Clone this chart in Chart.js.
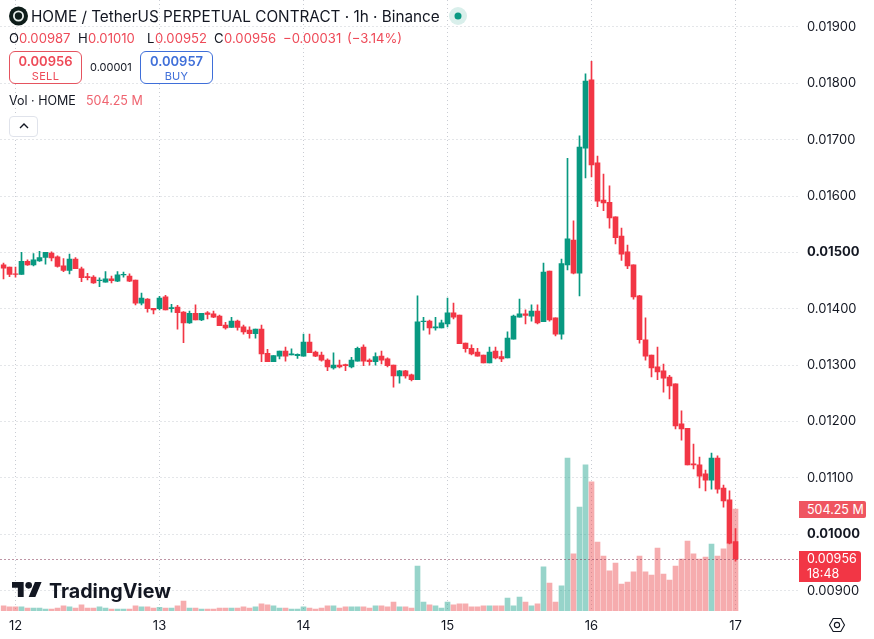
<!DOCTYPE html>
<html>
<head>
<meta charset="utf-8">
<title>HOME / TetherUS 1h</title>
<script src="https://cdn.jsdelivr.net/npm/chart.js@4/dist/chart.umd.min.js"></script>
<style>
    html, body { margin: 0; padding: 0; background: #fff; }
    body { position: relative; width: 874px; height: 639px; overflow: hidden; font-family: Inter, sans-serif; color: #131722; }
    canvas { position: absolute; left: 0; top: 0; }
    .t { position: absolute; white-space: nowrap; line-height: 1; }
    .red { color: #ee4a58; }
    .ohlc { font-size: 13.100px; top: 32px; }
    .box { position: absolute; top: 51px; width: 71px; height: 31px; border: 1px solid; border-radius: 6px; background: #fff; text-align: center; }
    .box b { display: block; font-size: 13px; font-weight: 600; line-height: 13px; margin-top: 3px; }
    .box span { display: block; font-size: 11px; line-height: 11px; margin-top: 3px; letter-spacing: 0.3px; }
</style>
</head>
<body>
<canvas id="priceChart" width="874" height="639"></canvas>

<svg class="t" style="left:9px;top:6px" width="20" height="20" viewBox="0 0 20 20">
    <circle cx="9.5" cy="10" r="9.5" fill="#0e1d1a"/>
    <circle cx="9.5" cy="10" r="4.6" fill="none" stroke="#e8efec" stroke-width="1.8"/>
</svg>
<div class="t" style="left:31px;top:9px;font-size:15.3px">HOME / TetherUS PERPETUAL CONTRACT · 1h · Binance</div>
<svg class="t" style="left:448px;top:6px" width="20" height="20" viewBox="0 0 20 20">
    <circle cx="10" cy="10" r="9" fill="#d9efeb"/>
    <circle cx="10" cy="10" r="3.5" fill="#089981"/>
</svg>

<div class="t ohlc" style="left:9px">O</div>
<div class="t ohlc red" style="left:19px">0.00987</div>
<div class="t ohlc" style="left:78px">H</div>
<div class="t ohlc red" style="left:88px">0.01010</div>
<div class="t ohlc" style="left:147px">L</div>
<div class="t ohlc red" style="left:155px">0.00952</div>
<div class="t ohlc" style="left:214px">C</div>
<div class="t ohlc red" style="left:224px">0.00956</div>
<div class="t ohlc red" style="left:283px">−0.00031</div>
<div class="t ohlc red" style="left:347px">(−3.14%)</div>

<div class="box red" style="left:9px;border-color:#e5535f"><b>0.00956</b><span>SELL</span></div>
<div class="t" style="left:90px;top:62px;font-size:11px">0.00001</div>
<div class="box" style="left:140px;border-color:#3f6fd9;color:#3f6fd9"><b>0.00957</b><span>BUY</span></div>

<div class="t" style="left:9px;top:95px;font-size:12.5px">Vol · HOME</div>
<div class="t" style="left:86px;top:95px;font-size:12.5px;color:#ef6470">504.25 M</div>

<div class="t" style="left:9px;top:116px;width:27px;height:19px;border:1px solid #e0e3eb;border-radius:4px;background:#fff"></div>
<svg class="t" style="left:18px;top:122px" width="12" height="8" viewBox="0 0 12 8">
    <path d="M2 6l4-4 4 4" fill="none" stroke="#131722" stroke-width="1.4"/>
</svg>

<svg class="t" style="left:12px;top:582px" width="30" height="15" viewBox="0 4 36 18">
    <path d="M14 22H7V11H0V4h14v18zM28 22h-8l7.5-18h8L28 22z" fill="#131722"/>
    <circle cx="20" cy="8" r="4" fill="#131722"/>
</svg>
<div class="t" style="left:49px;top:579px;font-size:19.700px;font-weight:700;line-height:24px">TradingView</div>

<div class="t" style="left:799px;top:501px;width:59px;height:17px;padding-left:8px;background:#ef5561;color:#fff;font-size:12.5px;line-height:17px;border-radius:0 2px 2px 0">504.25 M</div>
<div class="t" style="left:799px;top:551px;width:54px;height:31px;padding-left:8px;background:#f23645;color:#fff;font-size:12.5px;line-height:15px;border-radius:0 3px 3px 0">0.00956<br>18:48</div>

<svg class="t" style="left:828px;top:617px" width="18" height="16" viewBox="0 0 18 16">
    <path d="M1.5 8l3.7-6.5h7.6L16.500 8l-3.700 6.500H5.200z" fill="none" stroke="#131722" stroke-width="1.100"/>
    <circle cx="9" cy="8" r="2.600" fill="none" stroke="#131722" stroke-width="1.100"/>
</svg>

<script>
    // one candle per hour, oldest first
    const opens = [
        0.01478, 0.01474, 0.01462, 0.01461, 0.01484, 0.01478, 0.01485, 0.01491, 0.01499, 0.01492,
        0.01476, 0.01468, 0.01488, 0.01471, 0.01457, 0.01456, 0.01450, 0.01447, 0.01453, 0.01449,
        0.01460, 0.01458, 0.01451, 0.01410, 0.01417, 0.01401, 0.01400, 0.01421, 0.01400, 0.01403,
        0.01394, 0.01375, 0.01392, 0.01380, 0.01393, 0.01391, 0.01387, 0.01371, 0.01367, 0.01378,
        0.01368, 0.01362, 0.01356, 0.01364, 0.01321, 0.01306, 0.01316, 0.01325, 0.01318, 0.01317,
        0.01316, 0.01341, 0.01323, 0.01318, 0.01309, 0.01295, 0.01300, 0.01301, 0.01297, 0.01307,
        0.01332, 0.01309, 0.01306, 0.01316, 0.01311, 0.01300, 0.01281, 0.01290, 0.01283, 0.01274,
        0.01377, 0.01378, 0.01366, 0.01366, 0.01373, 0.01393, 0.01389, 0.01339, 0.01330, 0.01323,
        0.01318, 0.01304, 0.01325, 0.01315, 0.01313, 0.01346, 0.01385, 0.01391, 0.01387, 0.01396,
        0.01377, 0.01467, 0.01384, 0.01355, 0.01478, 0.01522, 0.01463, 0.01685, 0.01806, 0.01659,
        0.01593, 0.01589, 0.01563, 0.01529, 0.01501, 0.01478, 0.01423, 0.01345, 0.01318, 0.01297,
        0.01290, 0.01279, 0.01267, 0.01196, 0.01188, 0.01125, 0.01123, 0.01107, 0.01096, 0.01135,
        0.01082, 0.01061, 0.00987,
    ]
    const highs = [
        0.01481, 0.01474, 0.01474, 0.01500, 0.01487, 0.01498, 0.01502, 0.01500, 0.01501, 0.01494,
        0.01489, 0.01497, 0.01491, 0.01474, 0.01463, 0.01459, 0.01455, 0.01466, 0.01458, 0.01466,
        0.01465, 0.01462, 0.01451, 0.01428, 0.01418, 0.01401, 0.01422, 0.01424, 0.01408, 0.01406,
        0.01395, 0.01396, 0.01407, 0.01392, 0.01395, 0.01396, 0.01389, 0.01376, 0.01385, 0.01380,
        0.01371, 0.01368, 0.01364, 0.01371, 0.01328, 0.01317, 0.01325, 0.01332, 0.01329, 0.01320,
        0.01355, 0.01355, 0.01325, 0.01323, 0.01311, 0.01322, 0.01309, 0.01302, 0.01314, 0.01332,
        0.01336, 0.01311, 0.01322, 0.01325, 0.01313, 0.01300, 0.01291, 0.01291, 0.01284, 0.01423,
        0.01385, 0.01380, 0.01385, 0.01380, 0.01419, 0.01410, 0.01389, 0.01339, 0.01336, 0.01330,
        0.01318, 0.01332, 0.01332, 0.01325, 0.01359, 0.01389, 0.01417, 0.01398, 0.01407, 0.01407,
        0.01481, 0.01467, 0.01384, 0.01488, 0.01667, 0.01556, 0.01707, 0.01817, 0.01839, 0.01671,
        0.01639, 0.01618, 0.01563, 0.01543, 0.01513, 0.01478, 0.01424, 0.01384, 0.01318, 0.01332,
        0.01302, 0.01282, 0.01267, 0.01219, 0.01188, 0.01160, 0.01137, 0.01114, 0.01144, 0.01139,
        0.01087, 0.01077, 0.01010,
    ]
    const lows = [
        0.01453, 0.01457, 0.01456, 0.01461, 0.01477, 0.01476, 0.01484, 0.01479, 0.01485, 0.01474,
        0.01466, 0.01462, 0.01471, 0.01448, 0.01451, 0.01445, 0.01439, 0.01447, 0.01446, 0.01448,
        0.01456, 0.01448, 0.01407, 0.01407, 0.01394, 0.01391, 0.01398, 0.01398, 0.01394, 0.01364,
        0.01340, 0.01374, 0.01380, 0.01379, 0.01382, 0.01384, 0.01370, 0.01364, 0.01367, 0.01362,
        0.01355, 0.01348, 0.01348, 0.01306, 0.01306, 0.01306, 0.01311, 0.01307, 0.01318, 0.01312,
        0.01316, 0.01322, 0.01315, 0.01307, 0.01290, 0.01293, 0.01295, 0.01290, 0.01295, 0.01307,
        0.01299, 0.01300, 0.01300, 0.01302, 0.01297, 0.01261, 0.01268, 0.01277, 0.01272, 0.01274,
        0.01362, 0.01355, 0.01362, 0.01366, 0.01368, 0.01382, 0.01338, 0.01323, 0.01318, 0.01316,
        0.01304, 0.01304, 0.01311, 0.01306, 0.01313, 0.01346, 0.01385, 0.01373, 0.01378, 0.01373,
        0.01377, 0.01378, 0.01352, 0.01346, 0.01469, 0.01462, 0.01423, 0.01632, 0.01634, 0.01581,
        0.01574, 0.01543, 0.01515, 0.01486, 0.01471, 0.01417, 0.01339, 0.01309, 0.01279, 0.01274,
        0.01252, 0.01240, 0.01187, 0.01167, 0.01123, 0.01116, 0.01082, 0.01077, 0.01080, 0.01073,
        0.01048, 0.00983, 0.00952,
    ]
    const closes = [
        0.01472, 0.01461, 0.01461, 0.01484, 0.01478, 0.01487, 0.01491, 0.01500, 0.01490, 0.01475,
        0.01468, 0.01488, 0.01471, 0.01455, 0.01455, 0.01446, 0.01451, 0.01453, 0.01450, 0.01460,
        0.01461, 0.01449, 0.01410, 0.01419, 0.01400, 0.01398, 0.01419, 0.01398, 0.01402, 0.01393,
        0.01375, 0.01392, 0.01380, 0.01392, 0.01390, 0.01385, 0.01370, 0.01366, 0.01378, 0.01367,
        0.01359, 0.01356, 0.01364, 0.01320, 0.01306, 0.01317, 0.01325, 0.01316, 0.01320, 0.01319,
        0.01341, 0.01322, 0.01316, 0.01309, 0.01297, 0.01300, 0.01297, 0.01299, 0.01309, 0.01330,
        0.01307, 0.01306, 0.01315, 0.01309, 0.01299, 0.01281, 0.01290, 0.01281, 0.01274, 0.01377,
        0.01378, 0.01366, 0.01368, 0.01375, 0.01393, 0.01385, 0.01338, 0.01329, 0.01320, 0.01316,
        0.01304, 0.01323, 0.01313, 0.01311, 0.01348, 0.01387, 0.01391, 0.01388, 0.01396, 0.01375,
        0.01465, 0.01380, 0.01355, 0.01480, 0.01524, 0.01463, 0.01687, 0.01804, 0.01655, 0.01591,
        0.01588, 0.01561, 0.01526, 0.01497, 0.01476, 0.01421, 0.01345, 0.01316, 0.01295, 0.01288,
        0.01277, 0.01263, 0.01192, 0.01187, 0.01123, 0.01123, 0.01103, 0.01096, 0.01135, 0.01080,
        0.01059, 0.00984, 0.00956,
    ]
    // in millions of HOME
    const volumes = [
        25, 21, 21, 20, 15, 15, 15, 10, 10, 15, 25, 20, 15, 30, 15, 15, 20, 15, 10, 10,
        10, 10, 25, 20, 20, 15, 18, 15, 15, 25, 49, 15, 15, 10, 10, 10, 15, 15, 15, 15,
        20, 15, 20, 35, 30, 25, 15, 15, 10, 10, 20, 15, 10, 15, 25, 25, 15, 20, 20, 20,
        20, 15, 25, 25, 20, 44, 20, 20, 15, 222, 44, 30, 25, 15, 44, 30, 35, 35, 20, 20,
        25, 25, 25, 25, 64, 25, 69, 44, 25, 35, 218, 138, 44, 124, 756, 282, 514, 722, 638, 341,
        272, 198, 237, 133, 143, 193, 272, 193, 178, 311, 183, 153, 222, 257, 346, 282, 257, 267, 331, 272,
        307, 336, 504.25,
    ]

    const dayLabels = { 2: "12", 26: "13", 50: "14", 74: "15", 98: "16", 122: "17" }
    const priceTicks = [0.019, 0.018, 0.017, 0.016, 0.015, 0.014, 0.013, 0.012, 0.011, 0.01, 0.009]
    const boldTicks = [0.015, 0.01]
    const lastPrice = 0.00956

    const upColor = "#089981"
    const downColor = "#f23645"
    const upVolume = "rgba(8, 153, 129, 0.42)"
    const downVolume = "rgba(235, 70, 75, 0.45)"
    const gridColor = "#c9ccd3"

    // ten empty slots keep some room to the right of the last candle
    const slots = Array.from({ length: 133 }, (_, i) => dayLabels[i] || "")
    const isUp = (i) => closes[i] >= opens[i]
    const candleColors = opens.map((_, i) => (isUp(i) ? upColor : downColor))
    const volumeColors = opens.map((_, i) => (isUp(i) ? upVolume : downVolume))

    // axis labels may overhang the plot, so the plot edges stay fixed
    const noAxisPadding = (axis) => {
        axis.paddingTop = 0
        axis.paddingBottom = 0
        axis.paddingLeft = 0
        axis.paddingRight = 0
    }

    // dotted line at the last traded price
    const lastPriceLine = {
        id: "lastPriceLine",
        afterDatasetsDraw(chart) {
            const { ctx, chartArea, scales } = chart
            const y = Math.round(scales.y.getPixelForValue(lastPrice)) + 0.5
            ctx.save()
            ctx.strokeStyle = "#7d2a4a"
            ctx.lineWidth = 1
            ctx.setLineDash([1, 3])
            ctx.beginPath()
            ctx.moveTo(chartArea.left, y)
            ctx.lineTo(chartArea.right, y)
            ctx.stroke()
            ctx.restore()
        },
    }

    new Chart(document.getElementById("priceChart"), {
        type: "bar",
        data: {
            labels: slots,
            datasets: [
                {
                    data: opens.map((o, i) => [o, closes[i]]),
                    backgroundColor: candleColors,
                    barThickness: 5,
                    yAxisID: "y",
                    order: 1,
                },
                {
                    data: lows.map((l, i) => [l, highs[i]]),
                    backgroundColor: candleColors,
                    barThickness: 1,
                    yAxisID: "y",
                    order: 2,
                },
                {
                    data: volumes,
                    backgroundColor: volumeColors,
                    barThickness: 5,
                    yAxisID: "volume",
                    order: 3,
                },
            ],
        },
        options: {
            responsive: false,
            animation: false,
            layout: { padding: { left: 0.5 } },
            plugins: { legend: { display: false }, tooltip: { enabled: false } },
            datasets: { bar: { grouped: false, borderSkipped: false, borderWidth: 0 } },
            scales: {
                x: {
                    grid: {
                        offset: false,
                        drawTicks: false,
                        color: (c) => (c.tick && c.tick.label ? gridColor : "transparent"),
                    },
                    border: { display: false, dash: [1, 3] },
                    ticks: {
                        autoSkip: false,
                        maxRotation: 0,
                        padding: 7,
                        color: "#131722",
                        font: { family: "Inter", size: 13 },
                    },
                    afterFit: (axis) => {
                        noAxisPadding(axis)
                        axis.height = 28
                    },
                },
                y: {
                    position: "right",
                    min: 0.008638,
                    max: 0.019478,
                    afterBuildTicks: (axis) => {
                        axis.ticks = priceTicks.map((value) => ({ value }))
                    },
                    grid: { color: gridColor, drawTicks: false },
                    border: { display: false, dash: [1, 3] },
                    ticks: {
                        padding: 8.5,
                        color: "#131722",
                        callback: (v) => v.toFixed(5),
                        font: (c) => ({
                            family: "Inter",
                            size: 13,
                            weight: c.tick && boldTicks.includes(c.tick.value) ? "bold" : "normal",
                        }),
                    },
                    afterFit: (axis) => {
                        noAxisPadding(axis)
                        axis.width = 75.5
                    },
                },
                volume: {
                    display: false,
                    min: 0,
                    max: 3020,
                },
            },
        },
        plugins: [lastPriceLine],
    })
</script>
</body>
</html>
